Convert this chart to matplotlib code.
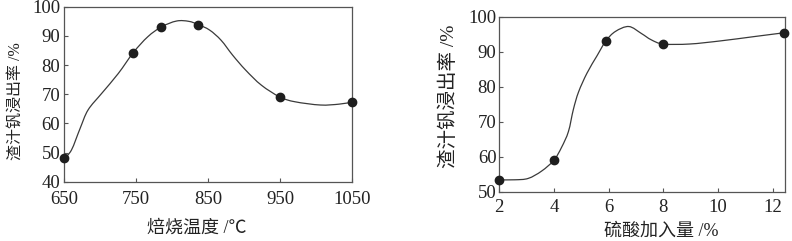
import matplotlib
matplotlib.use("Agg")
import matplotlib.pyplot as plt
from matplotlib.path import Path
from matplotlib.patches import PathPatch

plt.rcParams['font.family'] = ['Liberation Serif', 'Noto Sans CJK SC']

# left panel: roasting temperature
temp_x = [650, 746, 785, 836, 950, 1050]
temp_y = [48.0, 84.3, 93.1, 93.9, 69.0, 67.3]
temp_curve_x = [650, 660, 672, 683, 702, 725, 746, 766, 785, 806, 823, 836,
                852, 868, 884, 902, 924, 950, 971, 1006, 1032, 1050]
temp_curve_y = [48.0, 50.9, 58.3, 64.6, 70.3, 77.1, 84.3, 89.7, 93.1, 95.1, 95.0, 93.9,
                92.0, 88.5, 83.4, 78.3, 73.1, 69.0, 67.4, 66.3, 66.6, 67.3]
temp_ticks = [650, 750, 850, 950, 1050]
temp_yticks = [40, 50, 60, 70, 80, 90, 100]

# right panel: sulphuric acid addition
acid_x = [2, 4, 5.9, 8, 12.4]
acid_y = [53.4, 59.0, 93.1, 92.2, 95.4]
acid_curve_x = [2, 2.57, 3.06, 3.55, 4, 4.28, 4.53, 4.71, 4.90, 5.21, 5.58, 5.9,
                6.25, 6.74, 7.20, 7.56, 8, 8.96, 10.1, 11.3, 12.4]
acid_curve_y = [53.4, 53.4, 53.8, 55.9, 59.0, 62.7, 67.2, 73.5, 78.5, 83.9, 88.9, 93.1,
                95.8, 97.2, 95.2, 93.4, 92.2, 92.2, 93.1, 94.3, 95.4]
acid_ticks = [2, 4, 6, 8, 10, 12]
acid_yticks = [50, 60, 70, 80, 90, 100]

ylabel = '渣汁钒浸出率 /%'
line_c = '#3a3a3a'
dot_c = '#1e1e1e'
spine_c = '#555555'
text_c = '#222222'


def smooth_path(xs, ys):
    # catmull-rom through the read points, drawn as bezier segments
    pts = list(zip(xs, ys))
    verts = [pts[0]]
    codes = [Path.MOVETO]
    for i in range(len(pts) - 1):
        p0 = pts[i - 1] if i > 0 else pts[i]
        p1 = pts[i]
        p2 = pts[i + 1]
        p3 = pts[i + 2] if i + 2 < len(pts) else p2
        c1 = (p1[0] + (p2[0] - p0[0]) / 6, p1[1] + (p2[1] - p0[1]) / 6)
        c2 = (p2[0] - (p3[0] - p1[0]) / 6, p2[1] - (p3[1] - p1[1]) / 6)
        verts += [c1, c2, p2]
        codes += [Path.CURVE4] * 3
    return Path(verts, codes)


fig = plt.figure(figsize=(7.92, 2.41), dpi=100)
ax1 = fig.add_axes([0.0812, 0.246, 0.3633, 0.726])
ax2 = fig.add_axes([0.6304, 0.2046, 0.3607, 0.726])

for ax in (ax1, ax2):
    for s in ax.spines.values():
        s.set_color(spine_c)
        s.set_linewidth(0.9)
    ax.tick_params(direction='in', length=3, width=0.8, color=spine_c,
                   labelsize=13.5, colors=text_c)

ax1.tick_params(axis='x', pad=6.5)
ax1.tick_params(axis='y', pad=3)
ax2.tick_params(axis='x', pad=5.5)
ax2.tick_params(axis='y', pad=2)

ax1.add_patch(PathPatch(smooth_path(temp_curve_x, temp_curve_y), fill=False,
                        edgecolor=line_c, lw=0.9, zorder=2))
ax1.plot(temp_x, temp_y, 'o', color=dot_c, ms=6, zorder=3, clip_on=False)
ax1.set_xlim(650, 1050)
ax1.set_ylim(40, 100)
ax1.set_xticks(temp_ticks)
ax1.set_yticks(temp_yticks)
ax1.set_xlabel('焙烧温度 /℃', fontsize=13, color=text_c)
ax1.set_ylabel(ylabel, fontsize=11.5, color=text_c)
ax1.xaxis.set_label_coords(0.461, -0.215)
ax1.yaxis.set_label_coords(-0.137, 0.458)

ax2.add_patch(PathPatch(smooth_path(acid_curve_x, acid_curve_y), fill=False,
                        edgecolor=line_c, lw=0.9, zorder=2))
ax2.plot(acid_x, acid_y, 'o', color=dot_c, ms=6, zorder=3, clip_on=False)
ax2.set_xlim(2, 12.45)
ax2.set_ylim(50, 100)
ax2.set_xticks(acid_ticks)
ax2.set_yticks(acid_yticks)
ax2.set_xlabel('硫酸加入量 /%', fontsize=13, color=text_c)
ax2.set_ylabel(ylabel, fontsize=14, color=text_c)
ax2.xaxis.set_label_coords(0.566, -0.178)
ax2.yaxis.set_label_coords(-0.145, 0.547)

fig.savefig('out.png', dpi=100)
